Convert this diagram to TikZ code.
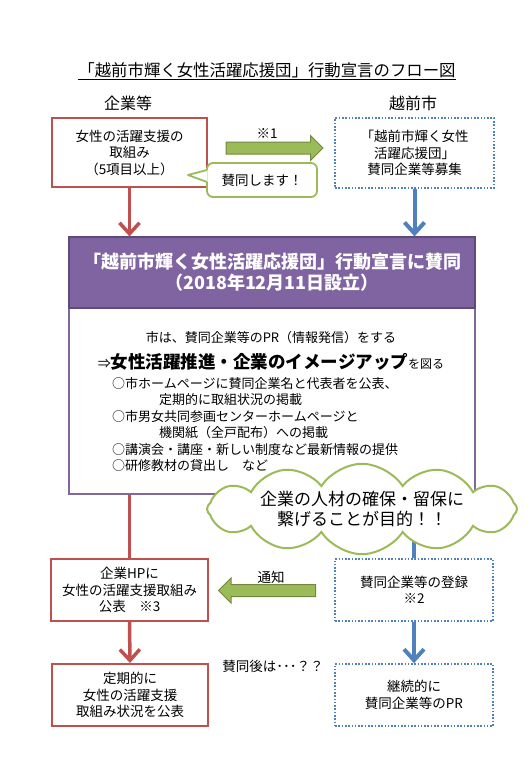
\documentclass[tikz,border=0pt]{standalone}
\usepackage{fontspec}
\setmainfont{Noto Sans CJK JP}
\usepackage{xcolor}
\usepackage{tikz}
\usetikzlibrary{positioning,calc}
\usetikzlibrary{arrows.meta}
\usetikzlibrary{shapes.symbols,shapes.arrows}

\definecolor{kred}{HTML}{C0504D}
\definecolor{kblue}{HTML}{4F81BD}
\definecolor{kgreen}{HTML}{9BBB59}
\definecolor{kgreendark}{HTML}{71893F}
\definecolor{kpurple}{HTML}{8064A2}
\definecolor{kpurpledark}{HTML}{5F4B7B}
\newcommand{\fs}[2]{\fontsize{#1}{#2}\selectfont}

\tikzset{
  redbox/.style={draw=kred, line width=2pt, fill=white, align=center, inner sep=0pt, font=\fs{13.5}{16.5}},
  dotbox/.style={draw=kblue, line width=1.6pt, dash pattern=on 1.6pt off 1.7pt, fill=white, align=center, inner sep=0pt, font=\fs{13.5}{16.5}},
  redline/.style={draw=kred, line width=3.5pt},
  blueline/.style={draw=kblue, line width=4pt},
  downtip/.style={-{Straight Barb[length=11pt,width=20pt]}},
  greenarrow/.style={single arrow, fill=kgreen, draw=kgreendark, line width=1pt, minimum width=25pt, single arrow head extend=6.5pt, inner xsep=0pt, inner ysep=5.5pt},
  smalltext/.style={font=\fs{13.5}{16}, inner sep=1pt}
}

\begin{document}
\begin{tikzpicture}[x=1pt,y=-1pt]
    % 背景と大きさ
    \fill[white] (0,0) rectangle (532,768);
    \useasboundingbox (0,0) rectangle (532,768);
    % タイトル
    \node[font=\fs{16.4}{18}, anchor=base, inner sep=0pt] (title) at (267,76) {「越前市輝く女性活躍応援団」行動宣言のフロー図};
    \draw[line width=1pt] ([yshift=-3pt]title.base west) -- ([yshift=-3pt]title.base east);
    \node[font=\fs{16}{18}] (company) at (128,103) {企業等};
    \node[font=\fs{16}{18}] (city) at (413,103) {越前市};
    % 上段
    \node[redbox, minimum width=155pt, minimum height=69pt] (ask) at (129.5,152.5) {女性の活躍支援の\\取組み\\（5項目以上）};
    \node[dotbox, minimum width=159pt, minimum height=70pt] (recruit) at (414.5,153) {「越前市輝く女性\\活躍応援団」\\賛同企業等募集};
    \node[greenarrow, minimum height=97pt] (sendarrow) at (271.5,148) {};
    \node[smalltext] (mark1) at (267,134) {※1};
    % 吹き出し
    \node[draw=kgreen, line width=1.8pt, rounded corners=6pt, fill=white, minimum width=110pt, minimum height=34pt, inner sep=0pt, font=\fs{13.5}{16}] (agree) at (262,180) {賛同します！};
    \coordinate (agreetip) at (188,175);
    \fill[white] ([xshift=1.5pt,yshift=10pt]agree.west) -- (agreetip) -- ([xshift=1.5pt,yshift=-2pt]agree.west) -- cycle;
    \draw[kgreen, line width=1.8pt, line join=round] ([xshift=0.9pt,yshift=10pt]agree.west) -- (agreetip) -- ([xshift=0.9pt,yshift=-2pt]agree.west);
    % 行動宣言
    \node[draw=kpurple!85!gray, line width=1.5pt, fill=white, minimum width=406pt, minimum height=186pt] (body) at (272,401) {};
    \node[fill=kpurple, draw=kpurpledark, line width=1.2pt, minimum width=406pt, minimum height=71pt, text=white, align=center, font=\bfseries\fs{18}{21}] (decl) at (272,272.5) {「越前市輝く女性活躍応援団」行動宣言に賛同\\（2018年12月11日設立）};
    \draw[redline, downtip] (ask.south) -- (ask.south |- decl.north);
    \draw[blueline, downtip] (recruit.south) -- (recruit.south |- decl.north);
    \node[font=\fs{13}{16}] (pr) at (271,338) {市は、賛同企業等のPR（情報発信）をする};
    \node (image) at (271,362) {{\fs{13}{16}⇒}{\bfseries\fs{17.5}{20}女性活躍推進・企業のイメージアップ}{\fs{12}{14}を図る}};
    \node[anchor=north west, align=left, inner sep=0pt, font=\fs{13}{16.5}] (items) at (112,377) {○市ホームページに賛同企業名と代表者を公表、\\\hspace*{3.6em}定期的に取組状況の掲載\\○市男女共同参画センターホームページと\\\hspace*{3.6em}機関紙（全戸配布）への掲載\\○講演会・講座・新しい制度など最新情報の提供\\○研修教材の貸出し　など};
    % 下段
    \node[redbox, minimum width=157pt, minimum height=62pt] (publish) at (129.5,590) {企業HPに\\女性の活躍支援取組み\\公表　※3};
    \node[dotbox, minimum width=158pt, minimum height=62pt] (register) at (414,590) {賛同企業等の登録\\※2};
    \node[redbox, minimum width=156pt, minimum height=62pt] (report) at (130,695) {定期的に\\女性の活躍支援\\取組み状況を公表};
    \node[dotbox, minimum width=158pt, minimum height=62pt] (promote) at (414,695) {継続的に\\賛同企業等のPR};
    \draw[redline] (publish.north |- body.south) -- (publish.north);
    \draw[blueline] (register.north |- body.south) -- (register.north);
    \draw[redline, downtip] (publish.south) -- (report.north);
    \draw[blueline, downtip] (register.south) -- (promote.north);
    \node[greenarrow, minimum height=97pt, shape border rotate=180] (noticearrow) at (270,590.5) {};
    \node[smalltext] (notice) at (271,577) {通知};
    \node[smalltext] (after) at (273,666) {賛同後は･･･？？};
    % 雲
    \node[cloud, cloud ignores aspect, cloud puffs=12, cloud puff arc=115, draw=kgreen, line width=2pt, fill=white, minimum width=310pt, minimum height=72pt, inner sep=0pt, align=center, font=\fs{17}{20.5}] (aim) at (362,509) {企業の人材の確保・留保に\\繋げることが目的！！};
\end{tikzpicture}
\end{document}
